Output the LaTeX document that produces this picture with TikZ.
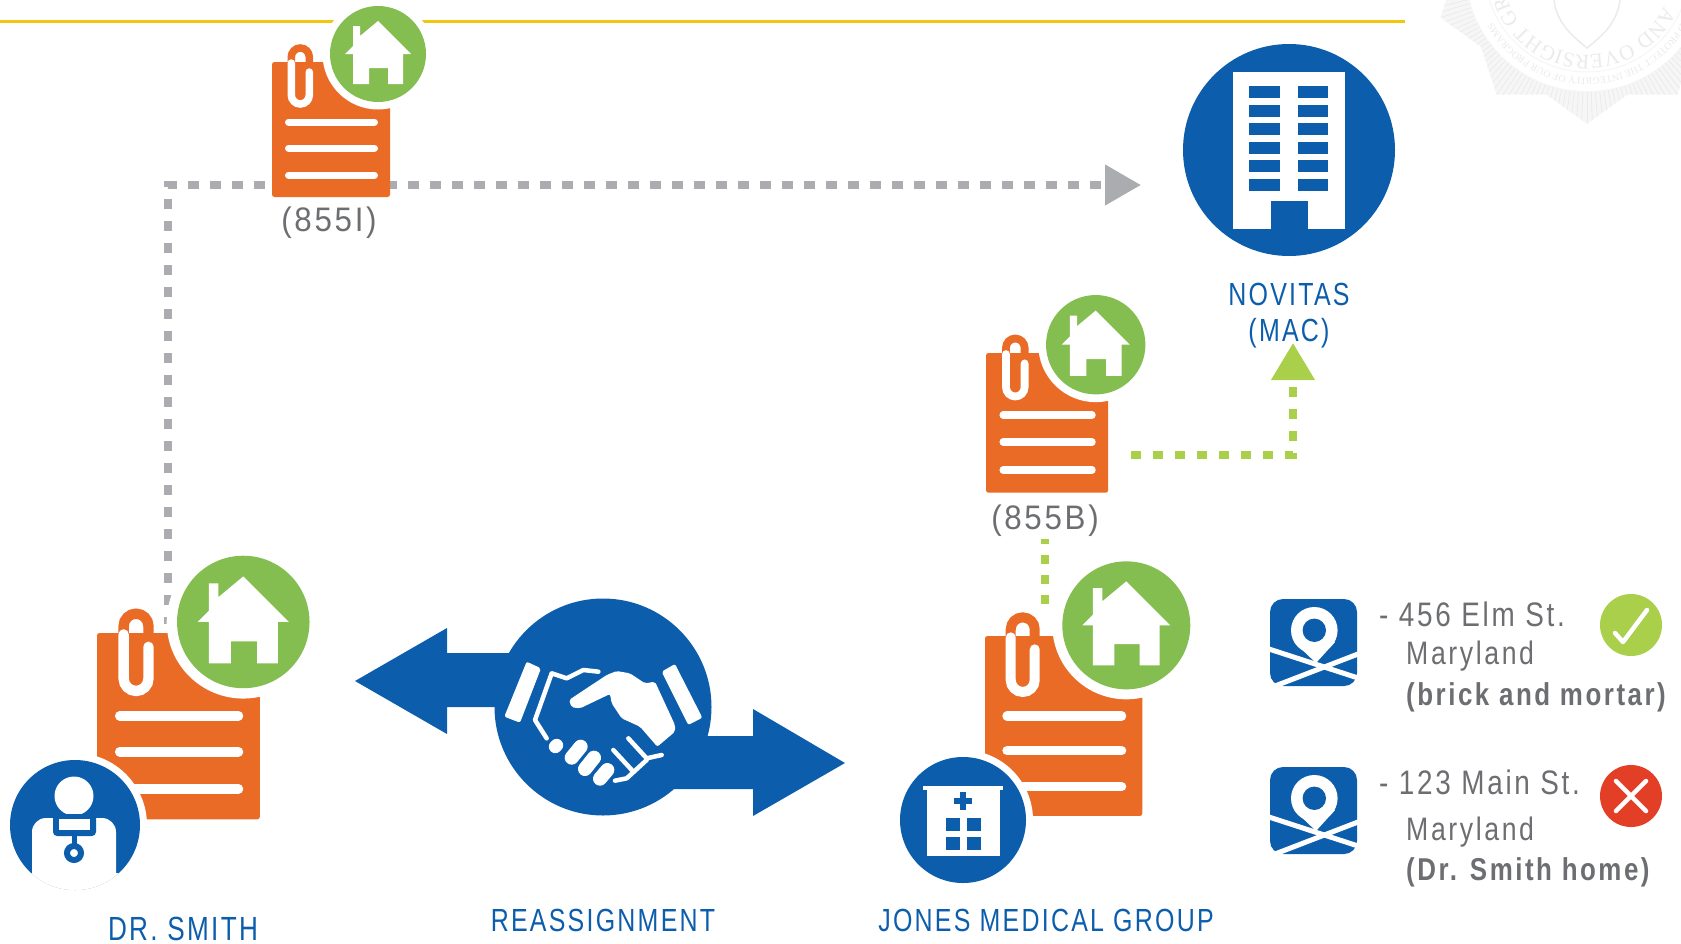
\documentclass[tikz,border=0pt]{standalone}
\usepackage{fontspec}
\setmainfont{Liberation Sans}[FakeStretch=.82,LetterSpace=8]
\newfontfamily\widefont{Liberation Sans}[FakeStretch=.92,LetterSpace=8]
\newfontfamily\slimfont{Liberation Sans}[FakeStretch=.78,LetterSpace=7]
\newfontfamily\sealfont{Liberation Serif}
\usetikzlibrary{arrows.meta,decorations.text}

\definecolor{docorange}{HTML}{E96B25}
\definecolor{homegreen}{HTML}{84BD50}
\definecolor{limegreen}{HTML}{A9CF4B}
\definecolor{mainblue}{HTML}{0C5EAC}
\definecolor{dashgray}{HTML}{ABACB0}
\definecolor{textgray}{HTML}{6D6E71}
\definecolor{crossred}{HTML}{E23F26}
\definecolor{ruleyellow}{HTML}{F2C80F}
\definecolor{sealgray}{HTML}{F6F6F7}
\definecolor{sealline}{HTML}{EBEBED}

\tikzset{
  bluelabel/.style={anchor=base,inner sep=0pt,text=mainblue,font=\slimfont\fontsize{32}{32}\selectfont},
  graylabel/.style={anchor=base,inner sep=0pt,text=textgray,font=\widefont\fontsize{34}{34}\selectfont},
  addrhead/.style={anchor=base west,inner sep=0pt,text=textgray,font=\fontsize{34}{34}\selectfont},
  addrline/.style={anchor=base west,inner sep=0pt,text=textgray,font=\fontsize{32.5}{32.5}\selectfont},
  addrbold/.style={addrline,font=\fontsize{31.6}{31.6}\selectfont\bfseries},
  graydash/.style={dashgray,line width=7.5pt,dash pattern=on 10.5pt off 11.5pt,dash phase=3pt},
  greendash/.style={limegreen,line width=7.5pt,dash pattern=on 10pt off 12pt},
  pics/mapicon/.style={code={
    \fill[mainblue,rounded corners=13pt] (0,0) rectangle (87,87);
    \fill[white] (44.3,31.3) circle [radius=23.3];
    \fill[white] (24,43) -- (46,64) -- (65,43) -- cycle;
    \fill[mainblue] (44.3,31.3) circle [radius=11.7];
    \draw[white,line width=5pt] (-1,50) -- (88,79);
    \draw[white,line width=5pt] (5,87) -- (88,55);
  }}
}

% paper with clip and home badge, local size 118 x 135
\newcommand{\docnote}[4]{
  \begin{scope}[shift={(#2,#3)},scale=#4]
    \coordinate (#1) at (59,67);
    \fill[docorange,rounded corners=2.5pt] (0,0) rectangle (118,135);
    \draw[docorange,line width=#4*7.5pt] (19.3,3) -- (19.3,-5) arc [start angle=180,end angle=360,radius=9] -- (37.3,3);
    \draw[white,line width=#4*7.5pt,line cap=round] (19.3,1) -- (19.3,33) arc [start angle=180,end angle=0,radius=9] -- (37.3,10);
    \draw[white,line width=#4*7pt,line cap=round] (16.5,60) -- (102.5,60);
    \draw[white,line width=#4*7pt,line cap=round] (16.5,86) -- (102.5,86);
    \draw[white,line width=#4*7pt,line cap=round] (16.5,113) -- (102.5,113);
    \fill[white] (106,-8) circle [radius=55.5];
    \fill[homegreen] (106,-8) circle [radius=48];
    \fill[white,shift={(106,-8)}] (0,-33) -- (33,0) -- (25,0) -- (25,30) -- (10,30) -- (10,14) -- (-9,14) -- (-9,30) -- (-25,30) -- (-25,0) -- (-33,0) -- (-25,-8) -- (-25,-28) -- (-18,-28) -- (-18,-18) -- cycle;
  \end{scope}
}

\begin{document}
\begin{tikzpicture}[x=1pt,y=-1pt]
  \useasboundingbox (0,0) rectangle (1681,943);
  \path[clip] (0,0) rectangle (1681,943);

  % seal, very faint
  \begin{scope}[shift={(1587,-30)}]
    \begin{scope}
      \path[clip] (90:154) \foreach \a in {90,126,...,414} { -- ({\a+18}:131) -- ({\a+36}:154)} -- cycle;
      \fill[sealgray] (0,0) circle [radius=170];
      \foreach \a in {0,2,...,178} {
        \draw[sealline,line width=.8pt] (\a:122) -- (\a:160);
      }
    \end{scope}
    \fill[white] (0,0) circle [radius=121];
    \draw[sealgray,line width=1pt] (0,0) circle [radius=102];
    \path[decorate,decoration={text along path,text={|\sealfont\fontsize{21}{21}\selectfont\color{sealline}|AND OVERSIGHT GROUP}}] (25:85) arc [start angle=25,end angle=170,radius=85];
    \path[decorate,decoration={text along path,text={|\sealfont\fontsize{10}{10}\selectfont\color{sealline}|AND PROTECT THE INTEGRITY OF OUR PROGRAMS}}] (22:108) arc [start angle=22,end angle=165,radius=108];
    \draw[sealline,line width=1.5pt] (-33,30) .. controls (-30,55) and (-12,68) .. (0,78) .. controls (12,68) and (30,55) .. (33,30);
  \end{scope}

  \draw[ruleyellow,line width=3pt] (0,21.5) -- (1405,21.5);

  % connectors go under the papers
  \coordinate (smithout) at (168,624);
  \coordinate (novitasin) at (1141,185);
  \coordinate (bout) at (1131,455);
  \coordinate (macin) at (1293,343);
  \coordinate (bdown) at (1045,539);
  \coordinate (jonesup) at (1045,604);
  \draw[graydash,-{Triangle[length=36pt,width=39pt]}] (smithout) |- (novitasin);
  \draw[greendash,-{Triangle[length=37pt,width=42pt]}] (bout) -| (macin);
  \draw[greendash,dash pattern=on 9pt off 11pt,dash phase=4pt] (bdown) -- (jonesup);

  \docnote{docI}{272}{62}{1}
  \docnote{docB}{986}{353}{1.035}
  \docnote{docsmith}{97}{633}{1.38}
  \docnote{docjones}{985}{636}{1.333}
  \node[graylabel] (lblI) at (329,231) {(855I)};
  \node[graylabel] (lblB) at (1045,529) {(855B)};

  % novitas building
  \coordinate (novitas) at (1289,150);
  \fill[mainblue] (novitas) circle [radius=106];
  \fill[white] (1233,72) rectangle (1345,229);
  \fill[mainblue] (1271,201) rectangle (1308,229);
  \foreach \r in {0,...,5} {
    \fill[mainblue] (1249,86+18.5*\r) rectangle (1280,98+18.5*\r);
    \fill[mainblue] (1298,86+18.5*\r) rectangle (1328,98+18.5*\r);
  }
  \node[bluelabel] (lblnovitas) at (1289,305) {NOVITAS};
  \node[bluelabel] (lblmac) at (1289,341) {(MAC)};

  % doctor
  \coordinate (smith) at (75,825);
  \fill[white] (smith) circle [radius=72];
  \fill[mainblue] (smith) circle [radius=65];
  \begin{scope}
    \path[clip] (smith) circle [radius=65];
    \fill[white,rounded corners=14pt] (32,900) -- (32,818) -- (116,818) -- (116,900) -- cycle;
    \fill[white] (20,873) rectangle (130,900);
  \end{scope}
  \fill[white] (74,796) circle [radius=19.5];
  \fill[mainblue,rounded corners=4pt] (53,814) rectangle (96,836);
  \fill[white] (58.5,819) rectangle (89.5,830);
  \draw[mainblue,line width=5pt] (74,834) -- (74,846);
  \draw[mainblue,line width=6pt,fill=white] (74,853) circle [radius=7];
  \node[bluelabel,font=\slimfont\fontsize{33.5}{33.5}\selectfont] (lblsmith) at (183,940) {DR. SMITH};

  % hospital
  \coordinate (hospital) at (963,820);
  \fill[white] (hospital) circle [radius=70];
  \fill[mainblue] (hospital) circle [radius=63];
  \fill[white] (923,786) rectangle (1003,790);
  \fill[white] (927,789) rectangle (1000,856);
  \fill[mainblue] (954,798) rectangle (972,804);
  \fill[mainblue] (960,792) rectangle (966,810);
  \fill[mainblue] (946,818) rectangle (960,831);
  \fill[mainblue] (967,818) rectangle (981,831);
  \fill[mainblue] (946,837) rectangle (960,850);
  \fill[mainblue] (967,837) rectangle (981,850);
  \node[bluelabel] (lbljones) at (1046,931) {JONES MEDICAL GROUP};

  % reassignment arrows and handshake
  \coordinate (deal) at (603,707);
  \fill[mainblue] (355,681) -- (447,628) -- (447,653) -- (560,653) -- (560,707) -- (447,707) -- (447,734) -- cycle;
  \fill[mainblue] (845,763) -- (753,709) -- (753,736) -- (650,736) -- (650,789) -- (753,789) -- (753,816) -- cycle;
  \fill[mainblue] (deal) circle [radius=108.5];
  \begin{scope}[shift={(350,590)},scale=1/3]
    \fill[white,rounded corners=2pt] (530,215) -- (573,235) -- (510,398) -- (463,380) -- cycle;
    \fill[white,rounded corners=2pt] (975,222) -- (935,245) -- (1015,405) -- (1057,383) -- cycle;
    \fill[white,rounded corners=2pt] (657,330) -- (770,255) -- (800,243) -- (840,250) -- (885,280) -- (915,275) -- (975,405) -- (975,425) -- (922,470) -- (870,410) -- (815,385) -- (785,340) -- (780,312) -- (690,355) -- (665,352) -- cycle;
    \draw[white,line width=4.5pt,line cap=round,line join=round] (745,245) -- (700,240) -- (650,265) -- (605,250) -- (555,390) -- (590,445);
    \draw[white,line width=4.5pt,line cap=round,line join=round] (835,445) -- (890,505) -- (935,495);
    \draw[white,line width=4.5pt,line cap=round,line join=round] (790,480) -- (850,545);
    \draw[white,line width=4.5pt,line cap=round,line join=round] (795,572) -- (830,565) -- (890,510);
    \draw[white,line width=13pt,line cap=round] (616,470) -- (620,466);
    \draw[white,line width=14pt,line cap=round] (665,503) -- (692,470);
    \draw[white,line width=14pt,line cap=round] (705,537) -- (732,503);
    \draw[white,line width=14pt,line cap=round] (750,566) -- (772,540);
  \end{scope}
  \node[bluelabel] (lblreassign) at (603,931) {REASSIGNMENT};

  % addresses
  \pic (mapelm) at (1270,599) {mapicon};
  \pic (mapmain) at (1270,767) {mapicon};
  \node[addrhead] (elmone) at (1379,626) {- 456 Elm St.};
  \node[addrline] (elmtwo) at (1406,664) {Maryland};
  \node[addrbold] (elmthree) at (1406,705) {(brick and mortar)};
  \node[addrhead] (mainone) at (1379,794) {- 123 Main St.};
  \node[addrline] (maintwo) at (1406,840) {Maryland};
  \node[addrbold] (mainthree) at (1406,880) {(Dr. Smith home)};

  \coordinate (okmark) at (1631,625);
  \fill[limegreen] (okmark) circle [radius=31];
  \draw[white,line width=4.5pt,line cap=round,line join=round] (1615,633) -- (1623,642) -- (1647,610);
  \coordinate (nomark) at (1631,796);
  \fill[crossred] (nomark) circle [radius=31];
  \draw[white,line width=4.5pt,line cap=round] (1616,781) -- (1646,811);
  \draw[white,line width=4.5pt,line cap=round] (1646,781) -- (1616,811);
\end{tikzpicture}
\end{document}
